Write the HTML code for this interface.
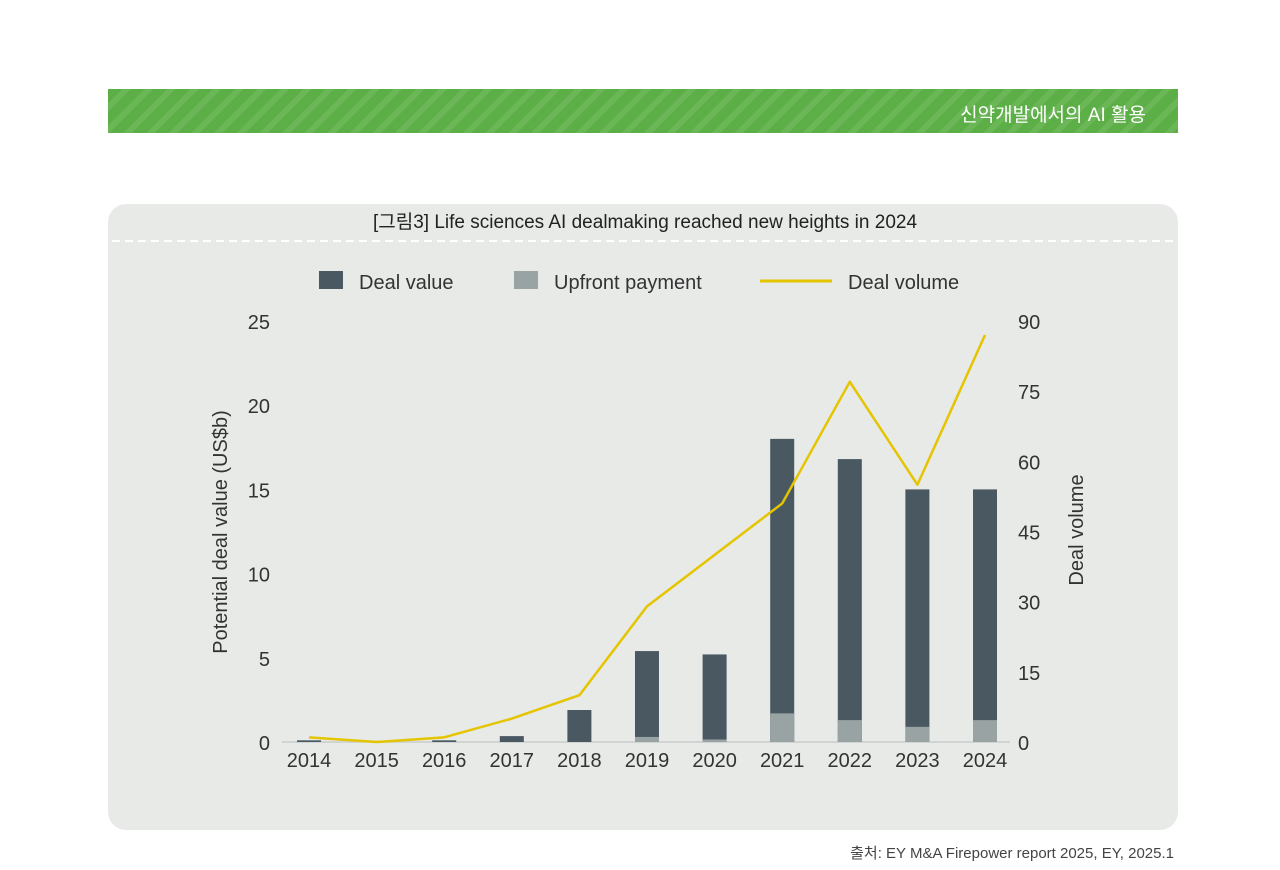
<!DOCTYPE html>
<html><head><meta charset="utf-8"><style>
body{margin:0;width:1280px;height:870px;background:#fff;font-family:"Liberation Sans","Noto Sans CJK KR",sans-serif;position:relative;overflow:hidden}
.hdr{position:absolute;left:108px;top:89px;width:1070px;height:44px;background:repeating-linear-gradient(135deg,#5cae46 0 10px,#6bb656 10px 16px)}
.hdr span{position:absolute;right:32px;top:11px;color:#fff;font-size:19px}
.panel{position:absolute;left:108px;top:204px;width:1070px;height:626px;background:#e7eae7;border-radius:18px}
.src{position:absolute;right:106px;top:842px;font-size:15px;color:#444}
</style></head><body>
<div class="hdr"><span>신약개발에서의 AI 활용</span></div>
<div class="panel"></div>
<svg id="c" width="1280" height="870" style="position:absolute;left:0;top:0">
<text x="645" y="228" text-anchor="middle" font-size="19" fill="#222">[그림3] Life sciences AI dealmaking reached new heights in 2024</text>
<line x1="112" y1="241" x2="1176" y2="241" stroke="#fff" stroke-width="2" stroke-dasharray="8,5"/>
<g>
<rect x="319" y="271" width="24" height="18" fill="#4a5862"/>
<text x="359" y="289" font-size="20" fill="#333">Deal value</text>
<rect x="514" y="271" width="24" height="18" fill="#99a3a4"/>
<text x="554" y="289" font-size="20" fill="#333">Upfront payment</text>
<line x1="760" y1="281" x2="832" y2="281" stroke="#e5c400" stroke-width="3"/>
<text x="848" y="289" font-size="20" fill="#333">Deal volume</text>
</g>
<text transform="translate(227,532) rotate(-90)" text-anchor="middle" font-size="20" fill="#333">Potential deal value (US$b)</text>
<text transform="translate(1083,530) rotate(-90)" text-anchor="middle" font-size="20" fill="#333">Deal volume</text>
<g id="g"></g>
</svg>
<div class="src">출처: EY M&amp;A Firepower report 2025, EY, 2025.1</div>
<script>
const years=["2014","2015","2016","2017","2018","2019","2020","2021","2022","2023","2024"];
const dealValue=[0.1,0.05,0.1,0.35,1.9,5.4,5.2,18,16.8,15,15];
const upfront=[0,0.02,0,0,0,0.3,0.15,1.7,1.3,0.9,1.3];
const dealVolume=[1,0,1,5,10,29,40,51,77,55,87];
const leftTicks=[0,5,10,15,20,25];
const rightTicks=[0,15,30,45,60,75,90];
const NS="http://www.w3.org/2000/svg",g=document.getElementById('g');
const base=742,top0=321;
const yL=v=>base-(v/25)*(base-top0);
const yR=v=>base-(v/90)*(base-top0);
const xC=i=>309+i*67.6;
function mk(t,a){const e=document.createElementNS(NS,t);for(const k in a)e.setAttribute(k,a[k]);g.appendChild(e);return e;}
leftTicks.forEach(v=>{const e=mk('text',{x:270,y:yL(v)+8,'text-anchor':'end','font-size':20,fill:'#333'});e.textContent=v;

});
rightTicks.forEach(v=>{const e=mk('text',{x:1018,y:yR(v)+8,'font-size':20,fill:'#333'});e.textContent=v;

});
const ax=mk('line',{x1:282,y1:base,x2:1010,y2:base,stroke:'#c9cdcc','stroke-width':1.5});


years.forEach((y,i)=>{
 const b=mk('rect',{x:xC(i)-12,y:yL(dealValue[i]),width:24,height:base-yL(dealValue[i]),fill:'#4a5862'});
 
 
 if(upfront[i]>0){const u=mk('rect',{x:xC(i)-12,y:yL(upfront[i]),width:24,height:base-yL(upfront[i]),fill:'#99a3a4'});
 
 }
 const t=mk('text',{x:xC(i),y:767,'text-anchor':'middle','font-size':20,fill:'#333'});t.textContent=y;
 
 
});
const l=mk('polyline',{points:dealVolume.map((v,i)=>xC(i)+','+yR(v)).join(' '),fill:'none',stroke:'#e5c400','stroke-width':2.5,'stroke-linejoin':'round'});


</script>
</body></html>
